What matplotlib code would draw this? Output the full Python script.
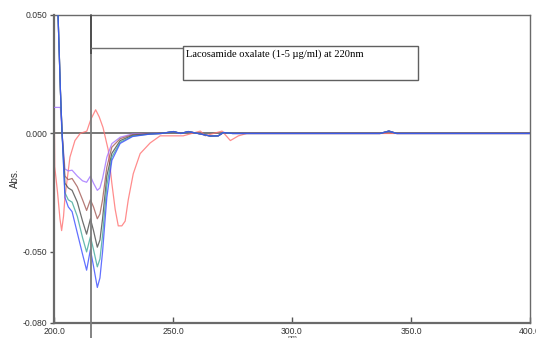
"""Overlay UV spectra of lacosamide oxalate (1-5 ug/ml), redrawn with matplotlib."""

import matplotlib
matplotlib.use("Agg")
import matplotlib.pyplot as plt
from matplotlib.patches import Rectangle

# wavelengths (nm) shared by the five standard curves, dip region
wl_main = [200.0, 201.7, 202.7, 203.4, 204.6, 206.0, 207.6, 209.8, 212.0, 213.7,
           215.3, 216.6, 218.2, 219.3, 220.4, 222.2, 224.3, 227.8, 233.0, 240.0]
# flat tail with small ripples, shared by the five curves
wl_tail = [245.0, 250.2, 253.3, 256.4, 260.5, 265.7, 269.0, 271.2, 275.0,
           300.0, 337.0, 340.7, 344.0, 400.0]
abs_tail = [0.0, 0.0008, 0.0, 0.0008, 0.0, -0.0011, -0.001, 0.0004, 0.0,
            0.0, 0.0, 0.001, 0.0, 0.0]

abs_purple = [0.011, 0.011, 0.011, 0.0, -0.015, -0.0158, -0.0155, -0.018, -0.020, -0.0206,
              -0.018, -0.021, -0.024, -0.023, -0.019, -0.010, -0.0043, -0.0016, -0.0002, 0.0]
abs_brown = [0.12, 0.05, 0.018, 0.0, -0.018, -0.0195, -0.019, -0.0225, -0.028, -0.0325,
             -0.028, -0.031, -0.036, -0.034, -0.028, -0.0142, -0.0058, -0.0022, -0.0005, -0.0001]
abs_gray = [0.12, 0.05, 0.018, 0.0, -0.021, -0.023, -0.024, -0.029, -0.037, -0.0425,
            -0.036, -0.041, -0.048, -0.045, -0.036, -0.018, -0.0084, -0.003, -0.0008, -0.0002]
abs_teal = [0.12, 0.05, 0.018, 0.0, -0.025, -0.028, -0.029, -0.035, -0.044, -0.050,
            -0.0436, -0.049, -0.0563, -0.053, -0.043, -0.022, -0.010, -0.0037, -0.0011, -0.0003]
abs_blue = [0.12, 0.05, 0.018, 0.0, -0.027, -0.031, -0.033, -0.042, -0.051, -0.0577,
            -0.049, -0.056, -0.065, -0.061, -0.050, -0.027, -0.0114, -0.0042, -0.0013, -0.0003]

# blank / solvent trace
wl_red = [200.0, 200.3, 201.5, 202.5, 203.2, 204.0, 204.6, 206.7, 208.8, 211.0,
          213.8, 215.5, 217.5, 219.0, 220.6, 222.8, 224.3, 225.7, 227.0, 228.5,
          229.9, 231.2, 233.3, 236.2, 240.4, 244.6, 254.3, 261.5, 263.6, 267.0,
          270.6, 274.1, 277.5, 281.0, 400.0]
abs_red = [0.024, -0.014, -0.025, -0.036, -0.041, -0.035, -0.027, -0.010, -0.003, 0.0,
           0.001, 0.006, 0.010, 0.007, 0.0025, -0.007, -0.021, -0.032, -0.039, -0.039,
           -0.037, -0.028, -0.017, -0.0085, -0.004, -0.001, -0.001, 0.001, -0.001, 0.0,
           0.001, -0.003, -0.001, 0.0, 0.0]

x_ticks = [200.0, 250.0, 300.0, 350.0, 400.0]
y_ticks = [0.05, 0.0, -0.05, -0.08]
y_ticklabels = ["0.050", "0.000", "-0.050", "-0.080"]
cursor_wl = 215.6
title_text = "Lacosamide oxalate (1-5 \u00b5g/ml) at 220nm"

fig = plt.figure(figsize=(5.36, 3.38), dpi=100)
ax = fig.add_axes([54 / 536, 15 / 338, 476 / 536, 308 / 338])

ax.axhline(0.0, color="#606060", lw=1.2, zorder=1)

ax.plot(wl_red, abs_red, color="#ff7070", lw=0.9, alpha=0.8, zorder=2)
curves = [(abs_purple, "#a070ff"), (abs_brown, "#a35a55"), (abs_gray, "#4a4a4a"),
          (abs_teal, "#3fa89a"), (abs_blue, "#3a4cff")]
for vals, col in curves:
    ax.plot(wl_main + wl_tail, vals + abs_tail, color=col, lw=0.9, alpha=0.8, zorder=3)

# cursor line, connector and annotation box
ax.plot([cursor_wl, cursor_wl], [0.05, -0.0905], color="#7a7a7a", lw=1.3,
        clip_on=False, zorder=4)
ax.plot([cursor_wl, cursor_wl], [0.05, 0.034], color="#505050", lw=1.4, zorder=4)
ax.plot([cursor_wl, 254.3], [0.0362, 0.0362], color="#707070", lw=1.0, zorder=4)
ax.add_patch(Rectangle((254.3, 0.0227), 98.5, 0.0143, facecolor="white",
                       edgecolor="#606060", lw=1.0, zorder=5))
ax.text(255.4, 0.0335, title_text, fontsize=7.6, family="Liberation Serif",
        va="center", ha="left", zorder=6)

ax.set_xlim(200, 400)
ax.set_ylim(-0.08, 0.05)
ax.set_xticks(x_ticks)
ax.set_xticklabels(["%.1f" % v for v in x_ticks])
ax.set_yticks(y_ticks)
ax.set_yticklabels(y_ticklabels)
ax.tick_params(axis="x", direction="in", length=4, width=1, color="#555555",
               labelsize=6.2, labelcolor="#333333", pad=3)
ax.tick_params(axis="y", direction="out", length=3, width=1, color="#555555",
               labelsize=6.2, labelcolor="#333333", pad=2)
for lab in ax.get_xticklabels() + ax.get_yticklabels():
    lab.set_family("Liberation Sans")

for side in ["left", "bottom"]:
    ax.spines[side].set_linewidth(1.6)
    ax.spines[side].set_color("#6a6a6a")
for side in ["top", "right"]:
    ax.spines[side].set_linewidth(1.0)
    ax.spines[side].set_color("#6a6a6a")

ax.set_ylabel("Abs.", fontsize=7, family="Liberation Sans", color="#333333")
ax.yaxis.set_label_coords(-0.072, 0.47)
ax.set_xlabel("nm", fontsize=5, family="Liberation Sans", color="#555555")
ax.xaxis.set_label_coords(0.5, -0.038)
ax.xaxis.label.set_va("top")

fig.savefig("out.png", dpi=100)
